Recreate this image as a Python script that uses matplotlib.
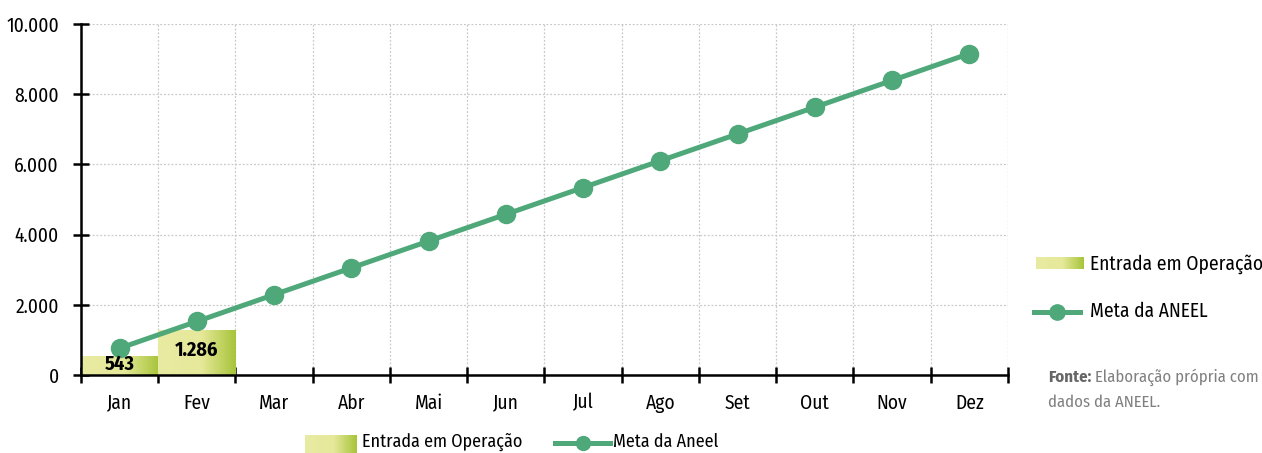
import matplotlib
matplotlib.use("Agg")
import matplotlib.pyplot as plt
import numpy as np
from matplotlib.colors import LinearSegmentedColormap
from matplotlib.lines import Line2D

months = ["Jan", "Fev", "Mar", "Abr", "Mai", "Jun", "Jul", "Ago", "Set", "Out", "Nov", "Dez"]
entrada = [543, 1286]
entrada_labels = ["543", "1.286"]
meta = [763, 1526, 2289, 3052, 3815, 4578, 5341, 6104, 6867, 7630, 8393, 9156]
yticks = [0, 2000, 4000, 6000, 8000, 10000]
ytick_labels = ["0", "2.000", "4.000", "6.000", "8.000", "10.000"]

plt.rcParams["font.family"] = ["Fira Sans Condensed", "DejaVu Sans"]

LINE = "#4fa879"
grad = LinearSegmentedColormap.from_list(
    "bar", [(0, "#e8eba2"), (0.55, "#e6e99a"), (1, "#a7c43a")])
gradient = np.linspace(0, 1, 256).reshape(1, -1)

W, H = 1262, 453
fig = plt.figure(figsize=(W / 100, H / 100), dpi=100)
ax = fig.add_axes([81 / W, 78 / H, 927 / W, 351 / H])

x = np.arange(len(months)) + 0.5

# gradient-filled bars
bars = ax.bar(x[:len(entrada)], entrada, width=1.0, color="none", zorder=2)
for b, lab in zip(bars, entrada_labels):
    x0, y0 = b.get_x(), b.get_y()
    w, h = b.get_width(), b.get_height()
    im = ax.imshow(gradient, cmap=grad, aspect="auto",
                   extent=(x0, x0 + w, y0, y0 + h), zorder=2)
    im.set_clip_path(b)
    ax.text(x0 + w / 2, h * 0.55, lab, ha="center", va="center",
            fontsize=14.5, fontweight="bold", color="black", zorder=5)

ax.plot(x, meta, color=LINE, lw=3.6, marker="o", markersize=13, zorder=4)

ax.set_xlim(0, 12)
ax.set_ylim(0, 10000)
ax.set_xticks(np.arange(13))
ax.set_xticklabels([])
ax.set_xticks(x, minor=True)
ax.set_xticklabels(months, minor=True, fontsize=14)
ax.tick_params(axis="x", which="minor", length=0, pad=13)
ax.tick_params(axis="x", which="major", direction="inout", length=12, width=1.8)
ax.set_yticks(yticks)
ax.set_yticklabels(ytick_labels, fontsize=14)
ax.tick_params(axis="y", direction="inout", length=12, width=1.8, pad=10)

ax.grid(True, which="major", color="#c8c8c8", linestyle=(0, (1.5, 1.5)), lw=0.9, zorder=0)
ax.set_axisbelow(True)
for s in ("top", "right"):
    ax.spines[s].set_visible(False)
for s in ("left", "bottom"):
    ax.spines[s].set_linewidth(1.8)
    ax.spines[s].set_zorder(6)


def grad_patch(x0, y0, w, h):
    pax = fig.add_axes([x0 / W, 1 - (y0 + h) / H, w / W, h / H])
    pax.imshow(gradient, cmap=grad, aspect="auto")
    pax.set_axis_off()


def line_key(x0, x1, y, ms=11):
    yy = 1 - y / H
    fig.add_artist(Line2D([x0 / W, x1 / W], [yy, yy], color=LINE, lw=3.6,
                          transform=fig.transFigure))
    fig.add_artist(Line2D([(x0 + x1) / 2 / W], [yy], color=LINE, marker="o",
                          markersize=ms, transform=fig.transFigure))


# right-hand legend
grad_patch(1036, 257, 48, 12)
fig.text(1090 / W, 1 - 264 / H, "Entrada em Operação", fontsize=14, va="center")
line_key(1034, 1080, 312)
fig.text(1090 / W, 1 - 311 / H, "Meta da ANEEL", fontsize=14, va="center")

# source note
fonte = fig.text(1048 / W, 1 - 377 / H, "Fonte:", fontsize=12, fontweight="bold",
                 color="#666666", va="center")
renderer = fig.canvas.get_renderer()
fx1 = fonte.get_window_extent(renderer).x1
fig.text((fx1 + 4) / W, 1 - 377 / H, "Elaboração própria com", fontsize=12,
         color="#808080", va="center")
fig.text(1048 / W, 1 - 402 / H, "dados da ANEEL.", fontsize=12,
         color="#808080", va="center")

# bottom legend
grad_patch(305, 435, 52, 18)
fig.text(362 / W, 1 - 442 / H, "Entrada em Operação", fontsize=13, va="center")
line_key(555, 610, 443, ms=10)
fig.text(613 / W, 1 - 442 / H, "Meta da Aneel", fontsize=13, va="center")

fig.savefig("out.png", dpi=100)
